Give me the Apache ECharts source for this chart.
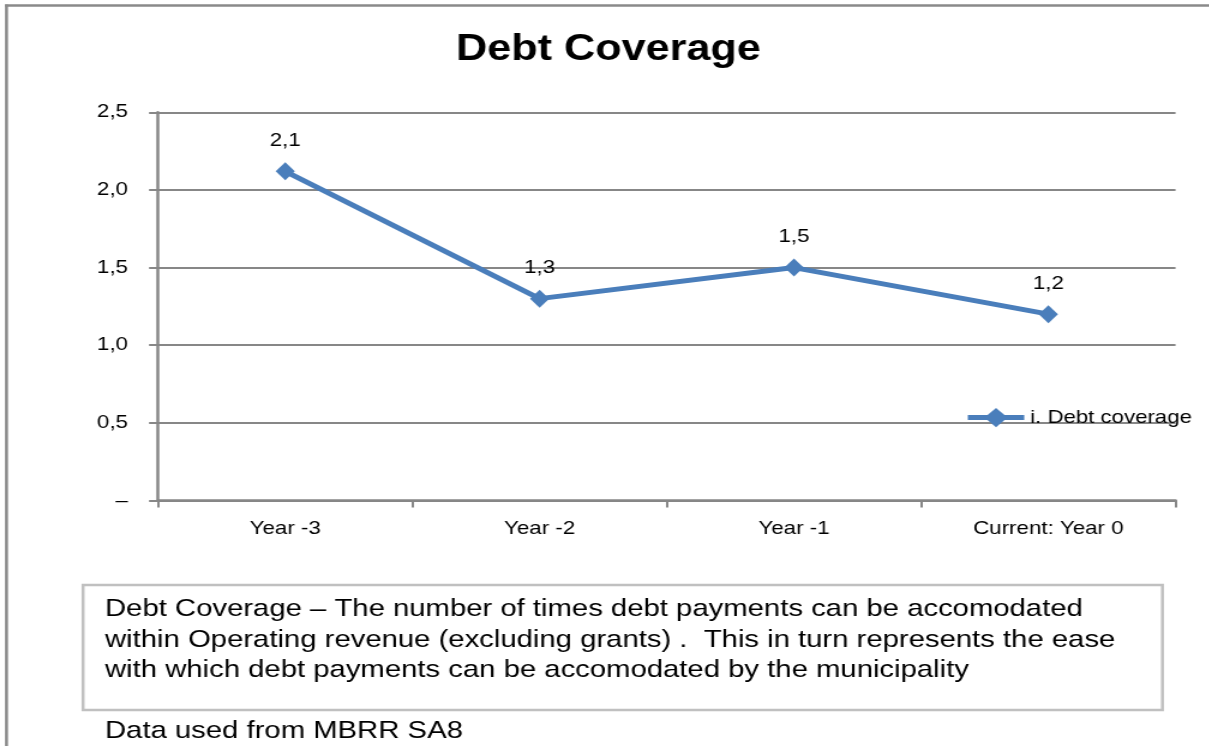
<!DOCTYPE html>
<html>
<head>
<meta charset="utf-8">
<title>Debt Coverage</title>
<script src="https://cdn.jsdelivr.net/npm/echarts@6/dist/echarts.min.js"></script>
<style>
  html, body { margin: 0; padding: 0; background: #ffffff; overflow: hidden; }
  /* the sheet is laid out on a 1008px-wide canvas and widened to the window */
  #chart { width: 1008px; height: 746px; transform: scaleX(1.2); transform-origin: 0 0; }
</style>
</head>
<body>
<div id="chart"></div>
<script>
// ---- data ----
const categories = ['Year -3', 'Year -2', 'Year -1', 'Current: Year 0'];
const debtCoverage = [2.12, 1.3, 1.5, 1.2];
const seriesName = 'i. Debt coverage';
const yTicks = { min: 0, max: 2.5, step: 0.5 };
const chartTitle = 'Debt Coverage';
const noteLines = [
  'Debt Coverage \u2013 The number of times debt payments can be accomodated',
  'within Operating revenue (excluding grants) .  This in turn represents the ease',
  'with which debt payments can be accomodated by the municipality'
];
const sourceNote = 'Data used from MBRR SA8';

// ---- style ----
const FONT = '"Liberation Sans", Arial, Helvetica, sans-serif';
const AXIS_GREY = '#878787';
const LINE_BLUE = '#4a7ebb';

// numbers shown with a decimal comma; zero is shown as a dash
function fmt(v) {
  if (v === 0) return '\u2013';
  return v.toFixed(1).replace('.', ',');
}

const chart = echarts.init(document.getElementById('chart'), null, { renderer: 'canvas' });

const noteTexts = noteLines.map(function (line, i) {
  return {
    type: 'text',
    x: 87.5,
    y: 609.5 + i * 30.5,
    style: { text: line, font: '24.4px ' + FONT, fill: '#000', align: 'left', verticalAlign: 'middle' },
    z: 20
  };
});

chart.setOption({
  backgroundColor: '#ffffff',
  animation: false,
  title: {
    text: chartTitle,
    left: 502,
    top: 45,
    textAlign: 'center',
    textVerticalAlign: 'middle',
    textStyle: { fontFamily: FONT, fontSize: 36, fontWeight: 'bold', color: '#000' }
  },
  legend: {
    left: 799,
    top: 403,
    itemWidth: 47,
    itemHeight: 24,
    lineStyle: { width: 5 },
    textStyle: { fontFamily: FONT, fontSize: 18.5, color: '#000' },
    data: [seriesName]
  },
  grid: { left: 131.7, right: 28.4, top: 112.3, bottom: 245.5, containLabel: false },
  xAxis: {
    type: 'category',
    data: categories,
    boundaryGap: true,
    axisLine: { show: true, lineStyle: { color: AXIS_GREY, width: 2.5 } },
    axisTick: { show: true, alignWithLabel: false, length: 7, lineStyle: { color: AXIS_GREY, width: 2 } },
    axisLabel: { fontFamily: FONT, fontSize: 18.6, color: '#000', margin: 19 },
    splitLine: { show: false }
  },
  yAxis: {
    type: 'value',
    min: yTicks.min,
    max: yTicks.max,
    interval: yTicks.step,
    axisLine: { show: true, lineStyle: { color: AXIS_GREY, width: 2.5 } },
    axisTick: { show: true, length: 7.5, lineStyle: { color: AXIS_GREY, width: 2 } },
    axisLabel: { fontFamily: FONT, fontSize: 18.6, color: '#000', margin: 25, formatter: fmt },
    splitLine: { show: true, lineStyle: { color: AXIS_GREY, width: 2 } }
  },
  series: [{
    name: seriesName,
    type: 'line',
    data: debtCoverage,
    color: LINE_BLUE,
    lineStyle: { color: LINE_BLUE, width: 5 },
    itemStyle: { color: LINE_BLUE },
    symbol: 'diamond',
    symbolSize: [16, 18],
    showSymbol: true,
    label: {
      show: true,
      position: 'top',
      distance: 12,
      fontFamily: FONT,
      fontSize: 18.6,
      color: '#000',
      formatter: function (p) { return fmt(p.value); }
    },
    z: 5
  }],
  graphic: [
    // outer frame: left and top edges
    { type: 'line', shape: { x1: 5.4, y1: 4.5, x2: 5.4, y2: 746 }, style: { stroke: '#8a8a8a', lineWidth: 2.5 }, z: 30 },
    { type: 'line', shape: { x1: 4.2, y1: 5.5, x2: 1008, y2: 5.5 }, style: { stroke: '#8a8a8a', lineWidth: 2.5 }, z: 30 },
    // explanatory note box
    { type: 'rect', shape: { x: 69.2, y: 585, width: 899.5, height: 125 }, style: { fill: '#ffffff', stroke: '#c0c0c0', lineWidth: 2.5 }, z: 10 }
  ].concat(noteTexts).concat([
    {
      type: 'text', x: 87.5, y: 731,
      style: { text: sourceNote, font: '24.4px ' + FONT, fill: '#000', align: 'left', verticalAlign: 'middle' },
      z: 20
    }
  ])
});
</script>
</body>
</html>
